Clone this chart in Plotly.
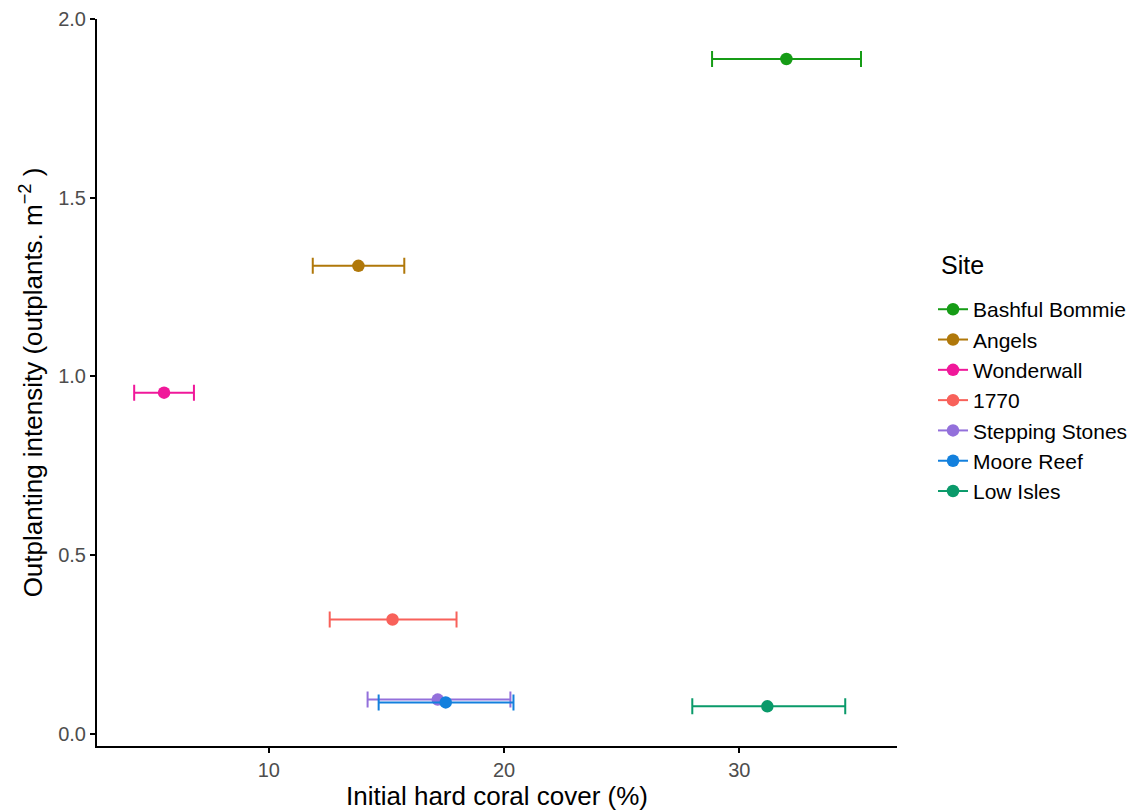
import plotly.graph_objects as go

sites = ["Bashful Bommie", "Angels", "Wonderwall", "1770", "Stepping Stones", "Moore Reef", "Low Isles"]
coral_cover = [32.0, 13.81, 5.55, 15.26, 17.18, 17.52, 31.19]
coral_low = [28.84, 11.87, 4.28, 12.59, 14.20, 14.67, 28.00]
coral_high = [35.17, 15.76, 6.82, 17.98, 20.27, 20.40, 34.50]
intensity = [1.888, 1.309, 0.954, 0.319, 0.095, 0.087, 0.076]
colors = ["#169C16", "#B0780A", "#F0189A", "#F8615A", "#9370DB", "#1380DD", "#0A9A6A"]

fig = go.Figure()
for i, s in enumerate(sites):
    fig.add_trace(go.Scatter(
        x=[coral_cover[i]], y=[intensity[i]], name=s, mode="lines+markers",
        marker=dict(color=colors[i], size=12.5),
        line=dict(color=colors[i], width=2),
        error_x=dict(type="data", symmetric=False,
                     array=[coral_high[i] - coral_cover[i]],
                     arrayminus=[coral_cover[i] - coral_low[i]],
                     color=colors[i], thickness=2, width=8),
    ))

fig.add_annotation(
    text="Site", xref="paper", yref="paper", x=1.053, y=0.6616,
    xanchor="left", yanchor="middle", showarrow=False,
    font=dict(size=25, color="black"),
)

fig.update_layout(
    width=1146, height=812,
    margin=dict(l=97, r=249, t=19, b=66),
    plot_bgcolor="white", paper_bgcolor="white",
    font=dict(family="Liberation Sans, Arial, sans-serif", color="black"),
    legend=dict(
        font=dict(size=21),
        x=1.045, y=0.6285, xanchor="left", yanchor="top",
        tracegroupgap=0,
    ),
    xaxis=dict(
        range=[2.7, 36.7], tickvals=[10, 20, 30], showgrid=False, zeroline=False,
        showline=True, linecolor="black", linewidth=2,
        ticks="outside", ticklen=5, tickwidth=1.5, tickcolor="black",
        tickfont=dict(size=20, color="#4d4d4d"),
        automargin=False,
        title=dict(text="Initial hard coral cover (%)", font=dict(size=26), standoff=6),
    ),
    yaxis=dict(
        range=[-0.035, 2.0], tickvals=[0, 0.5, 1.0, 1.5, 2.0],
        ticktext=["0.0", "0.5", "1.0", "1.5", "2.0"],
        showgrid=False, zeroline=False,
        showline=True, linecolor="black", linewidth=2,
        ticks="outside", ticklen=5, tickwidth=1.5, tickcolor="black",
        tickfont=dict(size=20, color="#4d4d4d"),
        automargin=False,
        title=dict(text="Outplanting intensity (outplants. m<sup>−2</sup> )", font=dict(size=26), standoff=8),
    ),
)

fig.write_html("out.html")
